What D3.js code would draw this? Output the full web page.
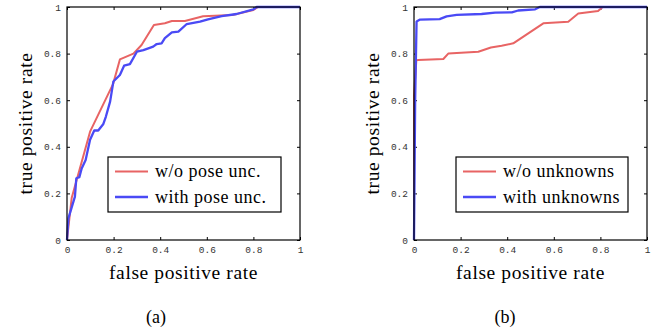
<!DOCTYPE html>
<html>
<head>
<meta charset="utf-8">
<script src="https://cdn.jsdelivr.net/npm/d3@7"></script>
<style>
  body { margin: 0; background: #fff; }
</style>
</head>
<body>
<script>
// ROC curves as [false positive rate, true positive rate]
const poseWithoutUnc = [[0,0],[0.02,0.18],[0.099,0.465],[0.198,0.67],[0.227,0.775],[0.285,0.80],[0.32,0.837],
  [0.373,0.923],[0.42,0.93],[0.45,0.94],[0.506,0.94],[0.584,0.96],[0.71,0.966],[0.80,0.987],[0.82,1],[1,1]];
const poseWithUnc = [[0,0],[0.006,0.093],[0.034,0.186],[0.04,0.265],[0.053,0.27],[0.063,0.307],[0.08,0.343],
  [0.099,0.43],[0.117,0.47],[0.134,0.47],[0.156,0.498],[0.167,0.53],[0.185,0.594],[0.199,0.68],[0.227,0.708],
  [0.245,0.748],[0.27,0.755],[0.30,0.808],[0.328,0.815],[0.37,0.83],[0.385,0.841],[0.406,0.844],[0.42,0.866],
  [0.45,0.891],[0.478,0.894],[0.514,0.927],[0.571,0.937],[0.605,0.947],[0.664,0.961],[0.728,0.97],[0.80,0.99],
  [0.814,1],[1,1]];
const withoutUnknowns = [[0,0],[0,0.62],[0.01,0.77],[0.018,0.773],[0.126,0.777],[0.147,0.80],[0.276,0.808],
  [0.33,0.826],[0.376,0.834],[0.426,0.844],[0.555,0.93],[0.662,0.937],[0.705,0.972],[0.79,0.983],[0.81,1],[1,1]];
const withUnknowns = [[0,0],[0.005,0.6],[0.011,0.938],[0.026,0.946],[0.11,0.948],[0.14,0.96],[0.183,0.966],
  [0.29,0.97],[0.348,0.976],[0.42,0.977],[0.447,0.985],[0.52,0.99],[0.54,1],[1,1]];

const ticks = [0, 0.2, 0.4, 0.6, 0.8, 1];
const legendA = ["w/o pose unc.", "with pose unc."];
const legendB = ["w/o unknowns", "with unknowns"];
const panelTags = ["(a)", "(b)"];

const RED = "#e86464";
const BLUE = "#4a4af5";
const SERIF = "'Liberation Serif', 'Times New Roman', serif";
const W = 661, H = 333;
const PLOT = { top: 7, size: 233 };
const TICK = 3;

const svg = d3.select("body").append("svg")
  .attr("width", W)
  .attr("height", H);

drawPanel(67, [poseWithoutUnc, poseWithUnc], legendA, { x: 108, y: 157, w: 173 }, panelTags[0], 156);
drawPanel(414, [withoutUnknowns, withUnknowns], legendB, { x: 456, y: 157, w: 172 }, panelTags[1], 505);

function drawPanel(left, series, names, legendBox, tag, tagX) {
  const x = d3.scaleLinear().domain([0, 1]).range([left, left + PLOT.size]);
  const y = d3.scaleLinear().domain([0, 1]).range([PLOT.top + PLOT.size, PLOT.top]);
  const g = svg.append("g");

  const fmt = d => d === 0 || d === 1 ? String(d) : d.toFixed(1);

  const xAxis = g.append("g")
    .attr("transform", `translate(0,${y(0)})`)
    .call(d3.axisBottom(x).tickValues(ticks).tickFormat(fmt).tickSizeInner(-TICK).tickSizeOuter(0).tickPadding(6));
  const yAxis = g.append("g")
    .attr("transform", `translate(${x(0)},0)`)
    .call(d3.axisLeft(y).tickValues(ticks).tickFormat(fmt).tickSizeInner(-TICK).tickSizeOuter(0).tickPadding(6));
  // mirrored ticks on top and right, no labels
  g.append("g")
    .attr("transform", `translate(0,${y(1)})`)
    .call(d3.axisTop(x).tickValues(ticks).tickFormat("").tickSizeInner(-TICK).tickSizeOuter(0));
  g.append("g")
    .attr("transform", `translate(${x(1)},0)`)
    .call(d3.axisRight(y).tickValues(ticks).tickFormat("").tickSizeInner(-TICK).tickSizeOuter(0));

  g.selectAll(".domain").remove();
  g.selectAll(".tick line").attr("stroke", "#000");
  [xAxis, yAxis].forEach(a => a.selectAll(".tick text")
    .attr("font-family", "'Liberation Mono', 'DejaVu Sans Mono', monospace")
    .attr("font-size", "9.5px")
    .attr("fill", "#333"));

  const line = d3.line().x(d => x(d[0])).y(d => y(d[1]));
  g.selectAll(".curve")
    .data(series)
    .join("path")
    .attr("class", "curve")
    .attr("d", line)
    .attr("fill", "none")
    .attr("stroke", (d, i) => i === 0 ? RED : BLUE)
    .attr("stroke-width", (d, i) => i === 0 ? 2 : 2.3)
    .attr("stroke-linejoin", "round");

  g.append("rect")
    .attr("x", x(0))
    .attr("y", y(1))
    .attr("width", PLOT.size)
    .attr("height", PLOT.size)
    .attr("fill", "none")
    .attr("stroke", "#000")
    .attr("stroke-width", 1.2);

  // legend
  const lg = g.append("g");
  lg.append("rect")
    .attr("x", legendBox.x)
    .attr("y", legendBox.y)
    .attr("width", legendBox.w)
    .attr("height", 55)
    .attr("fill", "#fff")
    .attr("stroke", "#000")
    .attr("stroke-width", 1.2);
  names.forEach((name, i) => {
    const ly = legendBox.y + 14.5 + i * 25.5;
    lg.append("line")
      .attr("x1", legendBox.x + 7)
      .attr("x2", legendBox.x + 40)
      .attr("y1", ly)
      .attr("y2", ly)
      .attr("stroke", i === 0 ? RED : BLUE)
      .attr("stroke-width", i === 0 ? 2 : 2.3);
    lg.append("text")
      .attr("x", legendBox.x + 47)
      .attr("y", ly + 5.5)
      .attr("font-family", SERIF)
      .attr("font-size", "18px")
      .attr("letter-spacing", "0.5px")
      .attr("fill", "#000")
      .text(name);
  });

  // axis titles
  g.append("text")
    .attr("x", x(0.5))
    .attr("y", 279)
    .attr("text-anchor", "middle")
    .attr("font-family", SERIF)
    .attr("font-size", "19.5px")
    .attr("letter-spacing", "0.6px")
    .text("false positive rate");
  g.append("text")
    .attr("transform", `translate(${left - 35},${y(0.5)}) rotate(-90)`)
    .attr("text-anchor", "middle")
    .attr("font-family", SERIF)
    .attr("font-size", "19.5px")
    .attr("letter-spacing", "0.6px")
    .text("true positive rate");

  g.append("text")
    .attr("x", tagX)
    .attr("y", 323)
    .attr("text-anchor", "middle")
    .attr("font-family", SERIF)
    .attr("font-size", "18px")
    .text(tag);
}
</script>
</body>
</html>
